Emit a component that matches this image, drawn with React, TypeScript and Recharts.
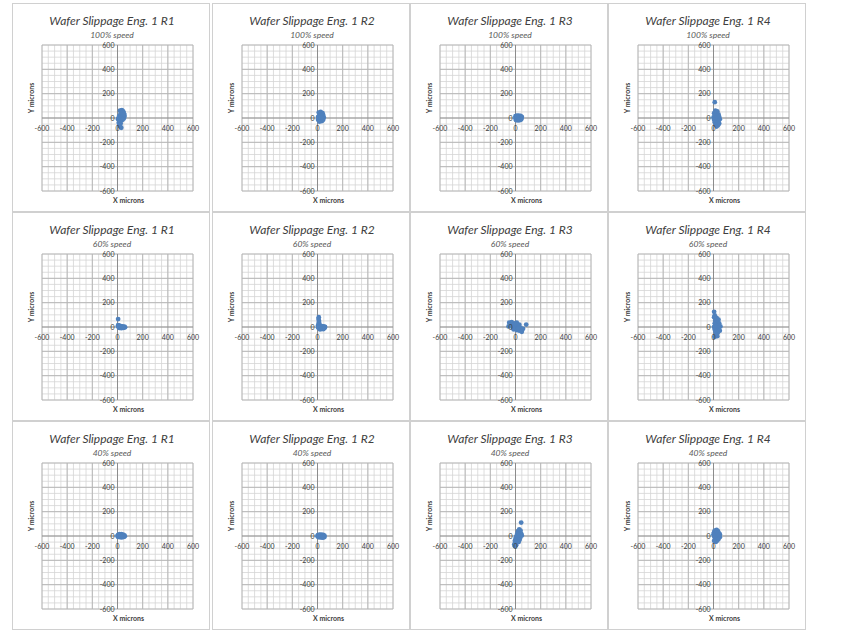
import React from 'react';
import { ScatterChart, Scatter, XAxis, YAxis, CartesianGrid, ReferenceLine } from 'recharts';

// runs / speeds
const runs = ['R1', 'R2', 'R3', 'R4'];
const speeds = ['100% speed', '60% speed', '40% speed'];

const gridTicks = [
  -600, -550, -500, -450, -400, -350, -300, -250, -200, -150, -100, -50, 0,
  50, 100, 150, 200, 250, 300, 350, 400, 450, 500, 550, 600,
];
const majorTicks = [-600, -400, -200, 200, 400, 600];

// [x, y] in microns
const r1Speed100 = [
  [20, 60], [35, 65], [45, 55], [50, 40], [40, 30], [25, 35], [15, 20], [30, 15], [45, 15],
  [55, 10], [10, 5], [20, 0], [35, 0], [50, -5], [5, -10], [15, -15], [30, -20], [40, -15],
  [20, -30], [10, -40], [25, -45], [15, -55], [20, -70], [30, -80], [40, 45], [55, 25],
];
const r2Speed100 = [
  [10, 45], [25, 50], [40, 40], [45, 25], [30, 30], [15, 20], [5, 10], [20, 10], [35, 15],
  [50, 5], [10, 0], [25, -5], [40, -5], [5, -15], [20, -20], [35, -25], [15, -30], [45, -15], [30, 5],
];
const r3Speed100 = [
  [0, 15], [10, 20], [25, 20], [40, 18], [50, 10], [5, 5], [20, 8], [35, 5], [48, 0], [0, -5],
  [15, -3], [30, -8], [45, -12], [5, -18], [20, -20], [35, -18], [10, 12], [28, -15],
];
const r4Speed100 = [
  [10, 130], [15, 60], [30, 55], [5, 40], [25, 35], [40, 30], [10, 20], [30, 15], [45, 10],
  [0, 5], [20, 0], [35, -5], [50, -10], [5, -15], [25, -20], [40, -25], [10, -35], [30, -40],
  [20, -55], [35, -60], [25, -70], [45, -45],
];

const r1Speed60 = [
  [5, 65], [5, 15], [15, 12], [25, 8], [40, 5], [55, 3], [10, 0], [20, -2], [35, 0], [50, -5],
  [60, -3], [15, -8], [30, -10], [45, -8], [5, 5],
];
const r2Speed60 = [
  [10, 80], [8, 65], [12, 50], [10, 35], [15, 25], [5, 15], [20, 10], [35, 8], [50, 5], [60, 0],
  [10, 0], [25, -3], [40, -5], [55, -10], [15, -12], [30, -15], [45, -18], [5, -5], [20, -20],
];
const r3Speed60 = [
  [-50, 35], [-30, 40], [-10, 30], [10, 35], [30, 20], [-40, 20], [-20, 15], [0, 10], [20, 10],
  [-55, 5], [-25, 0], [-5, -5], [15, 0], [40, -5], [60, -15], [-15, -20], [10, -25], [30, -30],
  [50, -40], [85, 20], [0, 25], [20, -15],
];
const r4Speed60 = [
  [5, 125], [10, 95], [5, 80], [25, 75], [40, 60], [15, 55], [30, 40], [45, 30], [10, 30],
  [20, 15], [40, 10], [55, 5], [5, 0], [25, -5], [40, -10], [10, -20], [30, -25], [50, -30],
  [15, -40], [35, -45], [20, -60], [30, -75], [10, -80],
];

const r1Speed40 = [
  [5, 10], [15, 15], [30, 15], [45, 12], [55, 5], [0, 0], [12, 3], [25, 5], [40, 0], [58, -3],
  [5, -8], [20, -10], [35, -12], [50, -8], [28, -5],
];
const r2Speed40 = [
  [3, 8], [15, 12], [30, 12], [45, 10], [55, 3], [0, -2], [12, 2], [25, 0], [40, -3], [55, -8],
  [8, -10], [22, -12], [38, -14], [48, -12],
];
const r3Speed40 = [
  [45, 110], [30, 55], [40, 45], [20, 40], [35, 30], [45, 20], [15, 20], [30, 10], [50, 5],
  [10, 5], [25, 0], [40, -5], [5, -10], [20, -15], [35, -20], [0, -25], [15, -30], [30, -35],
  [-5, -40], [10, -45], [25, -50], [0, -60], [-10, -70], [5, -75], [-5, -85],
];
const r4Speed40 = [
  [10, 45], [25, 50], [35, 40], [5, 30], [20, 30], [40, 25], [50, 15], [0, 15], [15, 10],
  [30, 12], [45, 5], [5, 0], [20, -5], [35, -5], [50, -10], [10, -15], [25, -20], [40, -25],
  [15, -30], [30, -38], [20, -48], [5, -40],
];

const panelData = [
  [r1Speed100, r2Speed100, r3Speed100, r4Speed100],
  [r1Speed60, r2Speed60, r3Speed60, r4Speed60],
  [r1Speed40, r2Speed40, r3Speed40, r4Speed40],
];

const colLefts = [12, 212, 410, 608];
const rowTops = [3, 212, 421];
const W = 198;
const H = 209;
// axes take 1px each (a zero-size axis is not drawn)
const margin = { top: 42, right: 17, bottom: 20, left: 29 };
const plotW = W - margin.left - 1 - margin.right;
const plotH = H - margin.top - margin.bottom - 1;
const zeroX = margin.left + 1 + plotW / 2;
const zeroY = margin.top + plotH / 2;

const FONT = 'Lato, "Liberation Sans", sans-serif';
const BLUE = '#4F81BD';

function XTick({ x, payload }: any) {
  if (payload.value % 200 !== 0) return <g />;
  return (
    <text x={x} y={zeroY + 13} textAnchor="middle" fontSize={7} fill="#404040" fontFamily={FONT}>
      {payload.value}
    </text>
  );
}

function YTick({ y, payload }: any) {
  if (payload.value % 200 !== 0) return <g />;
  return (
    <text x={zeroX - 3} y={y + 2.5} textAnchor="end" fontSize={7} fill="#404040" fontFamily={FONT}>
      {payload.value}
    </text>
  );
}

function Panel({ run, speed, points, left, top }: any) {
  const data = points.map(([x, y]: number[]) => ({ x, y }));
  return (
    <div
      style={{
        position: 'absolute',
        left,
        top,
        width: W,
        height: H,
        boxSizing: 'border-box',
        border: '1px solid #d0d0d0',
        background: '#fff',
        fontFamily: FONT,
      }}
    >
      <div style={{ position: 'absolute', left: -1, top: -1 }}>
        <ScatterChart width={W} height={H} margin={margin}>
          <CartesianGrid stroke="#d6d6d6" strokeWidth={0.8} />
          <XAxis
            type="number"
            dataKey="x"
            domain={[-600, 600]}
            ticks={gridTicks}
            interval={0}
            height={1}
            axisLine={false}
            tickLine={false}
            tick={<XTick />}
          />
          <YAxis
            type="number"
            dataKey="y"
            domain={[-600, 600]}
            ticks={gridTicks}
            interval={0}
            width={1}
            axisLine={false}
            tickLine={false}
            tick={<YTick />}
          />
          {majorTicks.map((v) => (
            <ReferenceLine key={'vx' + v} x={v} stroke="#b4b4b4" strokeWidth={0.9} />
          ))}
          {majorTicks.map((v) => (
            <ReferenceLine key={'hy' + v} y={v} stroke="#b4b4b4" strokeWidth={0.9} />
          ))}
          <ReferenceLine x={0} stroke="#8c8c8c" strokeWidth={1} />
          <ReferenceLine y={0} stroke="#8c8c8c" strokeWidth={1} />
          <Scatter
            data={data}
            isAnimationActive={false}
            shape={(p: any) => <circle cx={p.cx} cy={p.cy} r={2.4} fill={BLUE} />}
          />
        </ScatterChart>
      </div>
      <div
        style={{
          position: 'absolute',
          left: 0,
          width: W,
          top: 9,
          textAlign: 'center',
          fontSize: 12,
          lineHeight: '16px',
          fontStyle: 'italic',
          color: '#404040',
        }}
      >
        {`Wafer Slippage Eng. 1 ${run}`}
      </div>
      <div
        style={{
          position: 'absolute',
          left: 0,
          width: W,
          top: 26,
          textAlign: 'center',
          fontSize: 8.5,
          lineHeight: '11px',
          fontStyle: 'italic',
          color: '#595959',
        }}
      >
        {speed}
      </div>
      <div
        style={{
          position: 'absolute',
          left: zeroX + 10 - 40,
          width: 80,
          top: 191,
          textAlign: 'center',
          fontSize: 7,
          lineHeight: '10px',
          fontWeight: 700,
          color: '#404040',
        }}
      >
        X microns
      </div>
      <div
        style={{
          position: 'absolute',
          left: 18 - 40,
          width: 80,
          top: 94 - 5,
          textAlign: 'center',
          fontSize: 7,
          lineHeight: '10px',
          fontWeight: 700,
          color: '#404040',
          transform: 'rotate(-90deg)',
          transformOrigin: 'center',
        }}
      >
        Y microns
      </div>
    </div>
  );
}

export default function App() {
  return (
    <div style={{ position: 'absolute', left: 0, top: 0, width: 861, height: 637, background: '#fff' }}>
      {speeds.map((speed, r) =>
        runs.map((run, c) => (
          <Panel
            key={speed + run}
            run={run}
            speed={speed}
            points={panelData[r][c]}
            left={colLefts[c]}
            top={rowTops[r]}
          />
        ))
      )}
    </div>
  );
}
